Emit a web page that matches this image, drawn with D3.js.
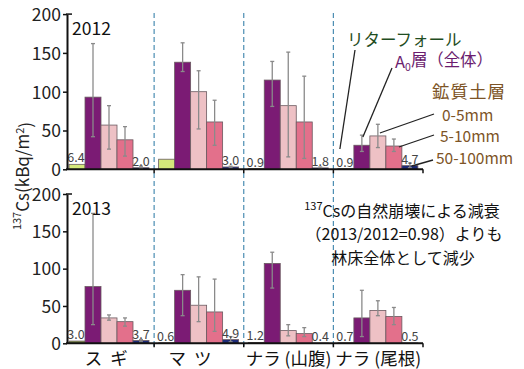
<!DOCTYPE html>
<html>
<head>
<meta charset="utf-8">
<script src="https://cdn.jsdelivr.net/npm/d3@7/dist/d3.min.js"></script>
<style>
  html, body { margin: 0; padding: 0; background: #fff; }
  svg { display: block; }
  text { font-family: "Noto Sans CJK JP", "Noto Sans", sans-serif; }
</style>
</head>
<body>
<script>
// Forest types along the x axis
const categories = ["ス ギ", "マ ツ", "ナラ (山腹)", "ナラ (尾根)"];
// Compartments drawn in each forest group, left to right
const seriesKeys = ["litter", "a0", "s0_5", "s5_10", "s50_100"];
const yTicks = [0, 50, 100, 150, 200];

// 2012 inventory (kBq/m²)
const litter2012 = [6.4, 13, 0.9, 0.9];
const a0_2012    = [93, 138, 115, 31];
const s0_5_2012  = [57, 100, 82, 43];
const s5_10_2012 = [38, 61, 61, 30];
const s50_2012   = [2.0, 3.0, 1.8, 4.7];
// error ranges [low, high]
const a0Err2012   = [[42, 162], [126, 163], [81, 139], [23, 44]];
const s0_5Err2012 = [[26, 82], [52, 127], [16, 151], [28, 58]];
const s5_10Err2012 = [[17, 55], [31, 89], [14, 120], [23, 39]];
const s50Err2012  = [[1, 4], [2, 4], [1, 3], [2, 8]];
// printed value labels for the small bars (null = not printed)
const litterLabel2012 = ["6.4", null, "0.9", "0.9"];
const s50Label2012    = ["2.0", "3.0", "1.8", "4.7"];

// 2013 inventory (kBq/m²)
const litter2013 = [3.0, 0.6, 1.2, 0.7];
const a0_2013    = [76, 71, 107, 34];
const s0_5_2013  = [34, 51, 17, 44];
const s5_10_2013 = [29, 42, 13, 36];
const s50_2013   = [3.7, 4.9, 0.4, 0.5];
const a0Err2013   = [[25, 174], [37, 92], [74, 122], [9, 71]];
const s0_5Err2013 = [[31, 38], [29, 89], [10, 25], [37, 57]];
const s5_10Err2013 = [[23, 34], [16, 86], [9, 21], [25, 48]];
const s50Err2013  = [[2, 5], [2, 9], null, null];
const litterLabel2013 = ["3.0", "0.6", "1.2", "0.7"];
const s50Label2013    = ["3.7", "4.9", "0.4", "0.5"];

const W = 524, H = 369;
const svg = d3.select("body").append("svg").attr("width", W).attr("height", H);

const colors = {
  litter2012: "#d3e87a", litter2013: "#7f9640",
  a0: "#7b1b74", s0_5: "#eec1c5", s5_10: "#e3708b", s50_100: "#1c2a78"
};

const x0 = d3.scaleBand().domain(categories).range([64.5, 423]).paddingInner(0).paddingOuter(0);
const x1 = d3.scaleBand().domain(seriesKeys).range([4.5, 84.5]);

const panels = [
  {
    year: "2012", y: d3.scaleLinear().domain([0, 200]).range([169.3, 14.1]),
    values: { litter: litter2012, a0: a0_2012, s0_5: s0_5_2012, s5_10: s5_10_2012, s50_100: s50_2012 },
    errs: { a0: a0Err2012, s0_5: s0_5Err2012, s5_10: s5_10Err2012, s50_100: s50Err2012 },
    labels: { litter: litterLabel2012, s50_100: s50Label2012 },
    litterColor: colors.litter2012
  },
  {
    year: "2013", y: d3.scaleLinear().domain([0, 200]).range([343.3, 194]),
    values: { litter: litter2013, a0: a0_2013, s0_5: s0_5_2013, s5_10: s5_10_2013, s50_100: s50_2013 },
    errs: { a0: a0Err2013, s0_5: s0_5Err2013, s5_10: s5_10Err2013, s50_100: s50Err2013 },
    labels: { litter: litterLabel2013, s50_100: s50Label2013 },
    litterColor: colors.litter2013
  }
];

const axisLeftX = 67, axisRightX = 423;

// dashed separators between forest groups, running through both panels
const sepXs = categories.slice(1).map(c => x0(c));
svg.append("g").selectAll("line").data(sepXs).join("line")
  .attr("x1", d => d).attr("x2", d => d)
  .attr("y1", 13).attr("y2", 347)
  .attr("stroke", "#4a8db2").attr("stroke-width", 1.2)
  .attr("stroke-dasharray", "5,3");

panels.forEach(p => {
  const g = svg.append("g");
  const y = p.y;

  // bars
  seriesKeys.forEach(k => {
    const fill = k === "litter" ? p.litterColor : colors[k];
    g.append("g").selectAll("rect").data(categories.map((c, i) => ({ c, v: p.values[k][i] }))).join("rect")
      .attr("x", d => x0(d.c) + x1(k))
      .attr("y", d => y(d.v))
      .attr("width", x1.bandwidth())
      .attr("height", d => y(0) - y(d.v))
      .attr("fill", fill)
      .attr("stroke", "#6a5a60").attr("stroke-width", 0.8);
  });

  // error bars
  Object.keys(p.errs).forEach(k => {
    const data = categories.map((c, i) => ({ c, e: p.errs[k][i] })).filter(d => d.e);
    const eg = g.append("g").attr("stroke", "#8a8a8a").attr("stroke-width", 1.3);
    const cx = d => x0(d.c) + x1(k) + x1.bandwidth() / 2;
    eg.selectAll("line.v").data(data).join("line").attr("class", "v")
      .attr("x1", cx).attr("x2", cx).attr("y1", d => y(d.e[0])).attr("y2", d => y(d.e[1]));
    eg.selectAll("line.t").data(data).join("line").attr("class", "t")
      .attr("x1", d => cx(d) - 2).attr("x2", d => cx(d) + 2).attr("y1", d => y(d.e[1])).attr("y2", d => y(d.e[1]));
    eg.selectAll("line.b").data(data).join("line").attr("class", "b")
      .attr("x1", d => cx(d) - 2).attr("x2", d => cx(d) + 2).attr("y1", d => y(d.e[0])).attr("y2", d => y(d.e[0]));
  });

  // value labels over the small bars
  Object.keys(p.labels).forEach(k => {
    const data = categories.map((c, i) => ({ c, t: p.labels[k][i], v: p.values[k][i] })).filter(d => d.t);
    g.append("g").selectAll("text").data(data).join("text")
      .attr("x", d => x0(d.c) + x1(k) + x1.bandwidth() / 2 + (k === "litter" ? -1 : 0))
      .attr("y", d => y(d.v) - 2)
      .attr("text-anchor", "middle")
      .attr("font-size", 12.5).attr("fill", "#444")
      .text(d => d.t);
  });

  // y axis
  const ax = g.append("g").attr("transform", `translate(${axisLeftX},0)`)
    .call(d3.axisLeft(y).tickValues(yTicks).tickSize(4).tickSizeOuter(0).tickPadding(2));
  ax.select(".domain").attr("stroke", "#111").attr("stroke-width", 2);
  ax.selectAll(".tick line").attr("stroke", "#111").attr("stroke-width", 1.5);
  ax.selectAll(".tick text").attr("font-size", 17.5).attr("fill", "#222")
    .attr("font-family", "'Noto Sans', sans-serif").attr("dy", "0.36em");
  // small stub to the right at the top of the axis
  g.append("line").attr("x1", axisLeftX - 1).attr("x2", axisLeftX + 5)
    .attr("y1", y(200)).attr("y2", y(200)).attr("stroke", "#111").attr("stroke-width", 1.5);

  // x axis line with ticks at group edges
  g.append("line").attr("x1", axisLeftX - 1).attr("x2", axisRightX)
    .attr("y1", y(0)).attr("y2", y(0)).attr("stroke", "#111").attr("stroke-width", 2);
  g.append("g").selectAll("line").data(sepXs.concat([axisRightX])).join("line")
    .attr("x1", d => d).attr("x2", d => d).attr("y1", y(0)).attr("y2", y(0) + 4)
    .attr("stroke", "#111").attr("stroke-width", 1.5);

  // year tag
  g.append("text").attr("x", 72).attr("y", y(200) + 21)
    .attr("font-size", 17.5).attr("fill", "#111")
    .attr("font-family", "'Noto Sans', sans-serif").text(p.year);
});

// category labels
svg.append("g").selectAll("text").data(categories).join("text")
  .attr("x", (d, i) => x0(d) + x0.bandwidth() / 2 + (i === 1 ? -8 : i === 0 ? -2 : 0))
  .attr("y", 365)
  .attr("text-anchor", "middle")
  .attr("font-size", 17.5).attr("fill", "#111")
  .attr("letter-spacing", (d, i) => i < 2 ? 2 : 0)
  .text(d => d);

// y axis title
const yt = svg.append("text").attr("transform", "translate(26,176) rotate(-90)")
  .attr("text-anchor", "middle").attr("font-size", 17).attr("fill", "#222")
  .attr("font-family", "'Noto Sans', sans-serif");
yt.append("tspan").attr("font-size", 11).attr("dy", "-0.5em").text("137");
yt.append("tspan").attr("dy", "0.5em").text("Cs(kBq/m");
yt.append("tspan").attr("font-size", 11).attr("dy", "-0.5em").text("2");
yt.append("tspan").attr("dy", "0.5em").text(")");

// legend with leader lines (drawn against the 2012 ナラ (尾根) group)
const g4 = categories[3];
const barTopX = k => x0(g4) + x1(k) + x1.bandwidth() / 2;
const legendItems = [
  { t: "リターフォール", x: 347, y: 46, color: "#1f4d22", lx: 355, ly: 50, tx: barTopX("litter") - 6, ty: 149 },
  { t: "A0層（全体）", x: 395, y: 68, color: "#6b1c6e", lx: 392, ly: 68, tx: barTopX("a0") + 1, ty: 137 },
  { t: "0-5mm", x: 442, y: 121, color: "#7d5426", lx: 434, ly: 114, tx: barTopX("s0_5") + 2, ty: 133 },
  { t: "5-10mm", x: 440, y: 142, color: "#7d5426", lx: 434, ly: 135, tx: barTopX("s5_10") + 5, ty: 147 },
  { t: "50-100mm", x: 436, y: 164, color: "#7d5426", lx: 433, ly: 160, tx: barTopX("s50_100") + 2, ty: 166 }
];
const lg = svg.append("g");
lg.selectAll("line").data(legendItems).join("line")
  .attr("x1", d => d.lx).attr("y1", d => d.ly).attr("x2", d => d.tx).attr("y2", d => d.ty)
  .attr("stroke", "#222").attr("stroke-width", 1.3);
legendItems.forEach(d => {
  const t = lg.append("text").attr("x", d.x).attr("y", d.y).attr("fill", d.color);
  if (d.t.startsWith("A0")) {
    t.attr("font-size", 16.5);
    t.append("tspan").text("A");
    t.append("tspan").attr("font-size", 10.5).attr("dy", "0.3em").text("0");
    t.append("tspan").attr("dy", "-0.3em").attr("textLength", 82).attr("lengthAdjust", "spacing").text("層（全体）");
  } else if (d.t === "リターフォール") {
    t.attr("font-size", 16.5).text(d.t);
  } else {
    // soil depth labels use the Latin face so their line boxes stay compact
    t.attr("font-family", "'Noto Sans', sans-serif").attr("font-size", 15.5).text(d.t);
  }
});
lg.append("text").attr("x", 432).attr("y", 98).attr("font-size", 17.5)
  .attr("letter-spacing", 1).attr("fill", "#7d5426").text("鉱質土層");

// note on the 2013 panel
const note = svg.append("text").attr("text-anchor", "middle").attr("font-size", 16).attr("fill", "#111");
const l1 = note.append("tspan").attr("x", 402).attr("y", 215);
l1.append("tspan").attr("font-size", 11).attr("dy", "-0.45em").text("137");
l1.append("tspan").attr("dy", "0.45em").text("Csの自然崩壊による減衰");
note.append("tspan").attr("x", 404).attr("y", 240).text("（2013/2012=0.98）よりも");
note.append("tspan").attr("x", 403).attr("y", 264).text("林床全体として減少");
</script>
</body>
</html>
